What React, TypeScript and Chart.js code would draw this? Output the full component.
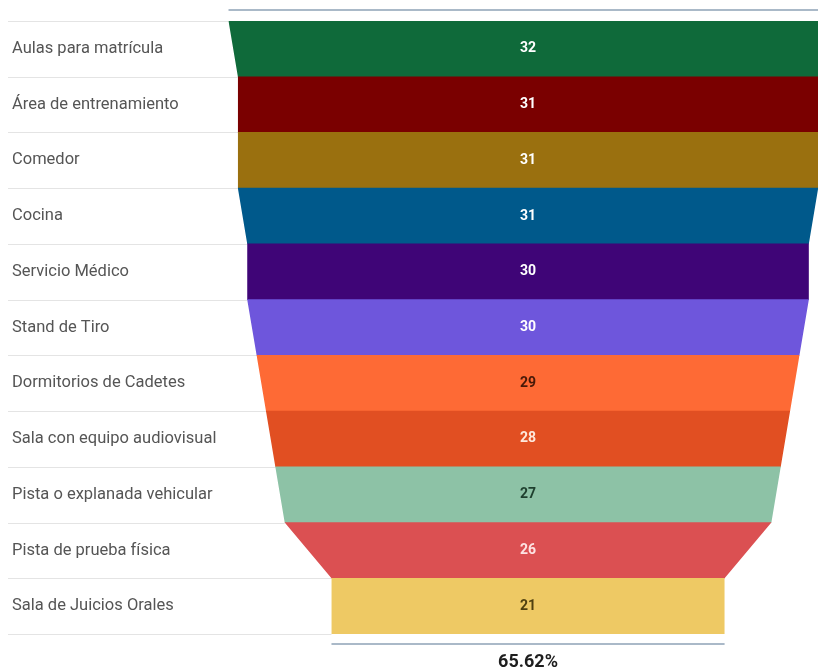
import { useEffect, useRef } from 'react';
import { Chart, registerables } from 'chart.js';

Chart.register(...registerables);

const categories = [
  'Aulas para matrícula',
  'Área de entrenamiento',
  'Comedor',
  'Cocina',
  'Servicio Médico',
  'Stand de Tiro',
  'Dormitorios de Cadetes',
  'Sala con equipo audiovisual',
  'Pista o explanada vehicular',
  'Pista de prueba física',
  'Sala de Juicios Orales',
];

const values = [32, 31, 31, 31, 30, 30, 29, 28, 27, 26, 21];

const colors = [
  '#0f6a3a',
  '#7a0000',
  '#9a700f',
  '#00598b',
  '#3f0577',
  '#6e56dc',
  '#fe6a35',
  '#e14f22',
  '#8dc2a6',
  '#db5052',
  '#eec964',
];

const valueLabelColors = [
  '#ffffff',
  '#ffffff',
  '#ffffff',
  '#ffffff',
  '#ffffff',
  '#ffffff',
  'rgba(40,10,0,0.85)',
  'rgba(255,240,230,0.95)',
  'rgba(10,40,25,0.85)',
  'rgba(255,235,235,0.95)',
  'rgba(50,40,0,0.85)',
];

export default function App() {
  const ref = useRef<HTMLCanvasElement | null>(null);

  useEffect(() => {
    if (!ref.current) return;

    const funnelPlugin = {
      id: 'funnelShape',
      beforeDatasetsDraw(chart: any) {
        const ctx = chart.ctx;
        const meta = chart.getDatasetMeta(0);
        const xs = chart.scales.x;
        const n = values.length;
        const left: [number, number][] = [];
        const right: [number, number][] = [];
        const bounds: { y: number; v: number }[] = [];
        for (let i = 0; i < n; i++) {
          const el: any = meta.data[i];
          const top = el.y - el.height / 2;
          const bot = el.y + el.height / 2;
          const wTop = values[i];
          const wBot = i < n - 1 ? values[i + 1] : values[i];
          left.push([xs.getPixelForValue(-wTop), top], [xs.getPixelForValue(-wBot), bot]);
          right.push([xs.getPixelForValue(wTop), top], [xs.getPixelForValue(wBot), bot]);
          if (i === 0) bounds.push({ y: top, v: wTop });
          bounds.push({ y: bot, v: wBot });
        }
        ctx.save();
        ctx.strokeStyle = '#e4e4e4';
        ctx.lineWidth = 1;
        for (const b of bounds) {
          const yy = Math.round(b.y) + 0.5;
          ctx.beginPath();
          ctx.moveTo(8, yy);
          ctx.lineTo(xs.getPixelForValue(-b.v), yy);
          ctx.stroke();
        }
        ctx.restore();

        ctx.save();
        ctx.beginPath();
        ctx.moveTo(left[0][0], left[0][1]);
        for (let k = 1; k < left.length; k++) ctx.lineTo(left[k][0], left[k][1]);
        for (let k = right.length - 1; k >= 0; k--) ctx.lineTo(right[k][0], right[k][1]);
        ctx.closePath();
        ctx.clip();
      },
      afterDatasetsDraw(chart: any) {
        const ctx = chart.ctx;
        ctx.restore();
        const meta = chart.getDatasetMeta(0);
        const xs = chart.scales.x;
        const cx = xs.getPixelForValue(0);
        ctx.save();
        ctx.font = 'bold 14px Roboto';
        ctx.textAlign = 'center';
        ctx.textBaseline = 'middle';
        for (let i = 0; i < values.length; i++) {
          const el: any = meta.data[i];
          ctx.fillStyle = valueLabelColors[i];
          ctx.fillText(String(values[i]), cx, el.y);
        }
        ctx.restore();
      },
      afterDraw(chart: any) {
        const ctx = chart.ctx;
        const xs = chart.scales.x;
        const area = chart.chartArea;
        const first = values[0];
        const last = values[values.length - 1];
        ctx.save();
        ctx.strokeStyle = '#aab9c8';
        ctx.lineWidth = 2;
        ctx.beginPath();
        ctx.moveTo(xs.getPixelForValue(-first), area.top - 11);
        ctx.lineTo(xs.getPixelForValue(first), area.top - 11);
        ctx.stroke();
        ctx.beginPath();
        ctx.moveTo(xs.getPixelForValue(-last), area.bottom + 10);
        ctx.lineTo(xs.getPixelForValue(last), area.bottom + 10);
        ctx.stroke();
        const pct = Math.floor((last / first) * 10000) / 100;
        ctx.fillStyle = '#1e1e1e';
        ctx.font = 'bold 18px Roboto';
        ctx.textAlign = 'center';
        ctx.textBaseline = 'middle';
        ctx.fillText(pct.toFixed(2) + '%', xs.getPixelForValue(0), area.bottom + 28);
        ctx.restore();
      },
    };

    const chart = new Chart(ref.current, {
      type: 'bar',
      data: {
        labels: categories,
        datasets: [
          {
            data: values.map((v) => [-v, v]) as any,
            backgroundColor: colors,
            borderWidth: 0,
            barPercentage: 1,
            categoryPercentage: 1,
          },
        ],
      },
      options: {
        indexAxis: 'y',
        animation: false,
        responsive: true,
        maintainAspectRatio: false,
        layout: { padding: { left: 0, right: 0, top: 21, bottom: 38 } },
        plugins: {
          legend: { display: false },
          tooltip: { enabled: false },
        },
        scales: {
          x: { type: 'linear', display: false, min: -55.56, max: 30.98 },
          y: {
            type: 'category',
            display: true,
            grid: { display: false, drawTicks: false },
            border: { display: false },
            ticks: {
              mirror: true,
              padding: 4,
              color: '#555555',
              font: { family: 'Roboto', size: 16.5 },
            },
          },
        },
      },
      plugins: [funnelPlugin],
    });

    return () => chart.destroy();
  }, []);

  return (
    <div style={{ position: 'absolute', left: 0, top: 0, width: 818, height: 672 }}>
      <canvas ref={ref} />
    </div>
  );
}
